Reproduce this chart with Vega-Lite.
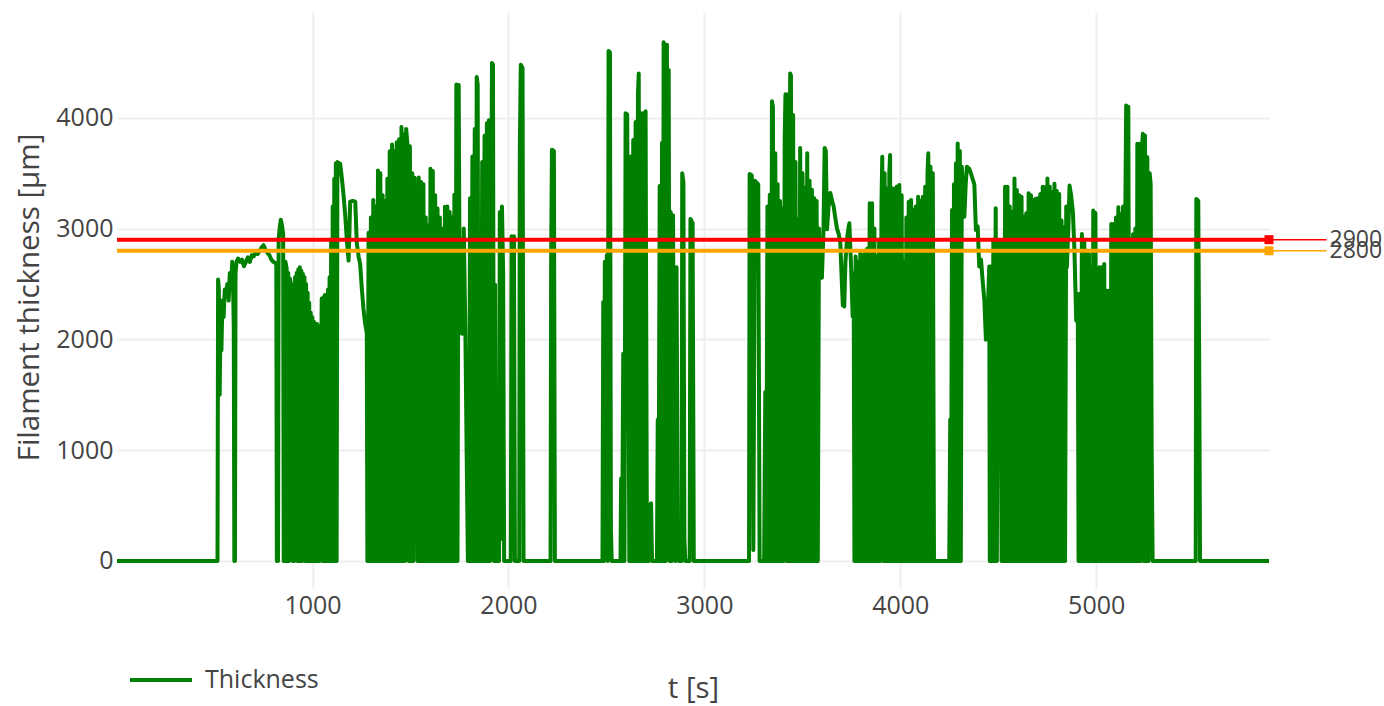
{
  "$schema": "https://vega.github.io/schema/vega-lite/v6.json",
  "width": 1152,
  "height": 576,
  "autosize": {"type": "none"},
  "padding": {"left": 117, "top": 12, "right": 115, "bottom": 118},
  "background": "white",
  "config": {
    "font": "Open Sans",
    "view": {"stroke": null},
    "axis": {
      "grid": true, "gridColor": "#eeeeee", "gridWidth": 2,
      "domain": false, "ticks": false,
      "labelFontSize": 25, "labelColor": "#444444", "labelFont": "Open Sans",
      "titleFontSize": 29.5, "titleColor": "#444444", "titleFontWeight": "normal", "titleFont": "Open Sans"
    }
  },
  "datasets": {
    "thick": [
      {"t":2,"v":0},{"t":515,"v":0},{"t":518,"v":2540},{"t":522,"v":2450},{"t":526,"v":1500},{"t":531,"v":2300},{"t":535,"v":1900},{"t":540,"v":2350},{"t":546,"v":2200},{"t":552,"v":2450},{"t":558,"v":2400},{"t":565,"v":2500},{"t":572,"v":2350},{"t":578,"v":2600},{"t":584,"v":2450},{"t":590,"v":2700},{"t":594,"v":2550},{"t":598,"v":2100},{"t":601,"v":0},{"t":604,"v":0},{"t":607,"v":2600},{"t":612,"v":2700},
      {"t":620,"v":2730},{"t":630,"v":2700},{"t":640,"v":2720},{"t":650,"v":2660},{"t":660,"v":2700},{"t":670,"v":2740},{"t":680,"v":2700},{"t":690,"v":2760},{"t":700,"v":2750},{"t":710,"v":2790},{"t":720,"v":2770},{"t":730,"v":2800},{"t":740,"v":2830},{"t":750,"v":2850},{"t":760,"v":2810},{"t":770,"v":2780},{"t":780,"v":2760},{"t":790,"v":2720},{"t":800,"v":2700},{"t":810,"v":2690},{"t":815,"v":2680},{"t":818,"v":0},{"t":824,"v":0},{"t":827,"v":2900},{"t":832,"v":3000},{"t":838,"v":3080},{"t":845,"v":3020},{"t":850,"v":2950},{"t":853,"v":0},{"t":858,"v":0},{"t":862,"v":2700},{"t":868,"v":2640},{"t":872,"v":0},{"t":876,"v":2600},{"t":880,"v":0},{"t":884,"v":2550},{"t":890,"v":2500},
      {"t":895,"v":2480},{"t":899,"v":0},{"t":903,"v":2490},{"t":907,"v":0},{"t":911,"v":2560},{"t":915,"v":10},{"t":919,"v":2600},{"t":923,"v":0},{"t":927,"v":2630},{"t":931,"v":0},{"t":935,"v":2650},{"t":939,"v":0},{"t":943,"v":2620},{"t":947,"v":0},{"t":951,"v":2590},{"t":955,"v":30},{"t":959,"v":2560},{"t":963,"v":0},{"t":967,"v":2500},{"t":971,"v":0},{"t":975,"v":2420},{"t":979,"v":0},{"t":983,"v":2330},{"t":987,"v":0},{"t":991,"v":2240},{"t":995,"v":0},{"t":999,"v":2200},{"t":1003,"v":0},{"t":1007,"v":2160},{"t":1011,"v":0},{"t":1015,"v":2130},{"t":1019,"v":0},{"t":1023,"v":2140},{"t":1027,"v":0},{"t":1031,"v":2110},{"t":1035,"v":0},{"t":1039,"v":2120},{"t":1043,"v":1650},{"t":1047,"v":2370},{"t":1051,"v":0},{"t":1055,"v":2380},{"t":1059,"v":0},{"t":1063,"v":2400},{"t":1067,"v":0},{"t":1071,"v":2390},{"t":1075,"v":0},{"t":1079,"v":2450},{"t":1083,"v":0},{"t":1087,"v":2560},{"t":1091,"v":0},{"t":1095,"v":2900},{"t":1099,"v":0},{"t":1103,"v":3200},{"t":1107,"v":0},{"t":1111,"v":3450},{"t":1115,"v":0},{"t":1119,"v":3590},{"t":1123,"v":0},{"t":1127,"v":3600},
      {"t":1135,"v":3590},{"t":1141,"v":3587},{"t":1150,"v":3450},{"t":1158,"v":3306},{"t":1167,"v":3118},{"t":1175,"v":2900},{"t":1184,"v":2712},{"t":1188,"v":2950},{"t":1192,"v":3243},{"t":1205,"v":3250},{"t":1218,"v":3243},{"t":1226,"v":2868},{"t":1235,"v":2750},{"t":1243,"v":2681},{"t":1252,"v":2450},{"t":1260,"v":2275},{"t":1268,"v":2150},{"t":1277,"v":2056},
      {"t":1280,"v":0},{"t":1286,"v":2962},{"t":1292,"v":0},{"t":1298,"v":3100},{"t":1304,"v":0},{"t":1310,"v":3259},{"t":1316,"v":0},{"t":1322,"v":3200},{"t":1328,"v":0},{"t":1334,"v":3525},{"t":1340,"v":0},{"t":1346,"v":3500},{"t":1352,"v":0},{"t":1358,"v":3300},{"t":1364,"v":0},{"t":1370,"v":3250},{"t":1376,"v":0},{"t":1382,"v":3450},{"t":1388,"v":0},{"t":1394,"v":3697},{"t":1400,"v":0},{"t":1406,"v":3759},{"t":1412,"v":0},{"t":1418,"v":3700},{"t":1424,"v":0},{"t":1430,"v":3780},{"t":1436,"v":0},{"t":1442,"v":3806},{"t":1448,"v":0},{"t":1454,"v":3916},{"t":1460,"v":0},{"t":1466,"v":3850},{"t":1472,"v":0},{"t":1478,"v":3900},{"t":1485,"v":3750},{"t":1491,"v":0},{"t":1497,"v":3744},{"t":1503,"v":0},{"t":1509,"v":3500},{"t":1515,"v":0},{"t":1521,"v":3460},{"t":1526,"v":2600},{"t":1531,"v":3300},{"t":1536,"v":0},{"t":1542,"v":3462},{"t":1548,"v":0},{"t":1554,"v":3420},{"t":1560,"v":0},{"t":1566,"v":3400},{"t":1572,"v":0},{"t":1578,"v":3100},{"t":1584,"v":0},{"t":1590,"v":3025},{"t":1596,"v":0},{"t":1602,"v":3540},{"t":1608,"v":0},{"t":1614,"v":3520},{"t":1620,"v":0},{"t":1626,"v":3300},{"t":1632,"v":0},{"t":1638,"v":3181},{"t":1644,"v":0},{"t":1650,"v":3100},{"t":1656,"v":0},{"t":1660,"v":3000},{"t":1664,"v":1600},{"t":1670,"v":0},{"t":1676,"v":3197},{"t":1682,"v":0},{"t":1688,"v":3200},{"t":1694,"v":0},{"t":1700,"v":3150},{"t":1706,"v":0},{"t":1712,"v":3103},{"t":1718,"v":0},{"t":1724,"v":3306},{"t":1730,"v":0},{"t":1734,"v":4300},{"t":1740,"v":0},{"t":1746,"v":4296},{"t":1752,"v":2056},{"t":1758,"v":2900},{"t":1766,"v":2050},{"t":1772,"v":3000},{"t":1780,"v":2100},{"t":1787,"v":930},{"t":1793,"v":0},
      {"t":1799,"v":0},{"t":1804,"v":3275},{"t":1810,"v":0},{"t":1816,"v":3650},{"t":1822,"v":0},{"t":1828,"v":3900},{"t":1834,"v":0},{"t":1838,"v":4369},{"t":1843,"v":4300},{"t":1848,"v":0},{"t":1854,"v":2494},{"t":1860,"v":0},{"t":1866,"v":3600},{"t":1872,"v":0},{"t":1878,"v":3837},{"t":1884,"v":0},{"t":1890,"v":3950},{"t":1896,"v":0},{"t":1900,"v":3978},{"t":1906,"v":0},{"t":1912,"v":3000},{"t":1916,"v":4494},{"t":1921,"v":4480},{"t":1926,"v":0},{"t":1932,"v":2494},{"t":1936,"v":0},
      {"t":1952,"v":0},{"t":1956,"v":3150},{"t":1962,"v":200},{"t":1967,"v":3200},{"t":1973,"v":2600},{"t":1978,"v":0},{"t":2012,"v":0},{"t":2016,"v":2930},{"t":2022,"v":100},{"t":2028,"v":2930},{"t":2033,"v":0},{"t":2055,"v":0},{"t":2058,"v":3700},{"t":2063,"v":4478},{"t":2072,"v":4450},{"t":2077,"v":0},{"t":2215,"v":0},{"t":2218,"v":2750},{"t":2222,"v":3712},{"t":2232,"v":3700},{"t":2237,"v":0},
      {"t":2480,"v":0},{"t":2484,"v":2337},{"t":2488,"v":0},{"t":2492,"v":2700},{"t":2497,"v":100},{"t":2502,"v":2760},{"t":2507,"v":0},{"t":2511,"v":4603},{"t":2518,"v":4590},{"t":2523,"v":300},{"t":2527,"v":0},{"t":2572,"v":0},{"t":2575,"v":744},{"t":2580,"v":0},{"t":2586,"v":1870},{"t":2592,"v":0},{"t":2598,"v":4040},{"t":2606,"v":4030},{"t":2612,"v":2300},{"t":2617,"v":0},
      {"t":2625,"v":3650},{"t":2631,"v":0},{"t":2637,"v":3800},{"t":2643,"v":0},{"t":2649,"v":3962},{"t":2655,"v":0},{"t":2661,"v":4200},{"t":2665,"v":4400},{"t":2670,"v":0},{"t":2676,"v":4040},{"t":2682,"v":0},{"t":2688,"v":4040},{"t":2694,"v":0},{"t":2700,"v":4060},{"t":2707,"v":0},{"t":2715,"v":0},{"t":2720,"v":500},{"t":2728,"v":520},{"t":2733,"v":0},{"t":2758,"v":0},
      {"t":2762,"v":1275},{"t":2766,"v":0},{"t":2772,"v":3384},{"t":2778,"v":0},{"t":2784,"v":3775},{"t":2789,"v":0},{"t":2792,"v":4681},{"t":2798,"v":4650},{"t":2803,"v":0},{"t":2809,"v":4660},{"t":2814,"v":100},{"t":2818,"v":4431},{"t":2823,"v":0},{"t":2828,"v":3150},{"t":2834,"v":0},{"t":2840,"v":3120},{"t":2847,"v":212},{"t":2852,"v":0},{"t":2858,"v":2650},{"t":2864,"v":300},{"t":2870,"v":0},{"t":2884,"v":0},{"t":2887,"v":3500},{"t":2893,"v":3420},{"t":2898,"v":200},{"t":2903,"v":0},{"t":2925,"v":0},{"t":2929,"v":3087},{"t":2940,"v":3050},{"t":2946,"v":0},{"t":3228,"v":0},{"t":3231,"v":3493},{"t":3242,"v":3480},{"t":3250,"v":100},{"t":3258,"v":3431},{"t":3275,"v":3400},{"t":3282,"v":0},{"t":3305,"v":0},
      {"t":3311,"v":1525},{"t":3316,"v":0},{"t":3322,"v":3200},{"t":3328,"v":0},{"t":3334,"v":3306},{"t":3340,"v":0},{"t":3345,"v":4150},{"t":3350,"v":4100},{"t":3355,"v":0},{"t":3362,"v":3681},{"t":3368,"v":0},{"t":3374,"v":3400},{"t":3380,"v":0},{"t":3386,"v":3250},{"t":3392,"v":0},{"t":3398,"v":3181},{"t":3404,"v":0},{"t":3410,"v":3800},{"t":3414,"v":4212},{"t":3420,"v":0},{"t":3426,"v":4212},{"t":3432,"v":0},{"t":3438,"v":4400},{"t":3442,"v":4380},{"t":3447,"v":0},{"t":3453,"v":4025},{"t":3459,"v":0},{"t":3465,"v":3600},{"t":3471,"v":0},{"t":3477,"v":3087},{"t":3483,"v":0},{"t":3489,"v":3728},{"t":3495,"v":0},{"t":3501,"v":3500},{"t":3507,"v":0},{"t":3513,"v":3369},{"t":3519,"v":0},{"t":3525,"v":3681},{"t":3531,"v":0},{"t":3537,"v":3431},{"t":3543,"v":0},{"t":3549,"v":3350},{"t":3555,"v":0},{"t":3561,"v":3275},{"t":3567,"v":0},{"t":3573,"v":3250},{"t":3579,"v":0},{"t":3585,"v":3000},{"t":3590,"v":2556},
      {"t":3600,"v":2556},{"t":3608,"v":3000},{"t":3614,"v":3728},{"t":3620,"v":3700},{"t":3626,"v":2994},{"t":3634,"v":3200},{"t":3643,"v":3322},{"t":3652,"v":3250},{"t":3660,"v":3200},{"t":3668,"v":3100},{"t":3677,"v":3000},{"t":3686,"v":2950},{"t":3694,"v":2869},{"t":3702,"v":2500},{"t":3707,"v":2306},{"t":3714,"v":2297},{"t":3720,"v":2700},{"t":3728,"v":2900},{"t":3735,"v":3000},{"t":3740,"v":3048},{"t":3748,"v":2700},{"t":3757,"v":2207},{"t":3762,"v":2600},
      {"t":3766,"v":0},{"t":3772,"v":2748},{"t":3778,"v":0},{"t":3784,"v":2700},{"t":3790,"v":0},{"t":3796,"v":2778},{"t":3802,"v":0},{"t":3808,"v":2760},{"t":3814,"v":0},{"t":3820,"v":2800},{"t":3826,"v":0},{"t":3832,"v":2820},{"t":3838,"v":0},{"t":3844,"v":3228},{"t":3850,"v":0},{"t":3856,"v":3228},{"t":3862,"v":0},{"t":3868,"v":3000},{"t":3874,"v":0},{"t":3880,"v":2748},{"t":3886,"v":0},{"t":3892,"v":2900},{"t":3898,"v":0},{"t":3904,"v":3228},{"t":3908,"v":3649},{"t":3914,"v":0},{"t":3920,"v":3500},{"t":3926,"v":0},{"t":3932,"v":3363},{"t":3938,"v":0},{"t":3944,"v":3500},{"t":3948,"v":3664},{"t":3953,"v":0},{"t":3959,"v":3363},{"t":3965,"v":0},{"t":3971,"v":3363},{"t":3977,"v":0},{"t":3983,"v":3380},{"t":3989,"v":0},{"t":3995,"v":3393},{"t":4001,"v":0},{"t":4007,"v":3300},{"t":4013,"v":0},{"t":4019,"v":2700},{"t":4025,"v":0},{"t":4031,"v":3100},{"t":4037,"v":0},{"t":4043,"v":3243},{"t":4049,"v":0},{"t":4055,"v":3258},{"t":4061,"v":0},{"t":4067,"v":3170},{"t":4073,"v":0},{"t":4079,"v":3200},{"t":4085,"v":0},{"t":4091,"v":3288},{"t":4097,"v":0},{"t":4103,"v":3250},{"t":4109,"v":0},{"t":4115,"v":3288},{"t":4121,"v":0},{"t":4127,"v":3378},{"t":4133,"v":0},{"t":4139,"v":3500},{"t":4143,"v":3679},{"t":4148,"v":0},{"t":4154,"v":3558},{"t":4160,"v":0},{"t":4166,"v":3500},{"t":4172,"v":0},
      {"t":4250,"v":0},{"t":4255,"v":1276},{"t":4259,"v":0},{"t":4264,"v":3168},{"t":4269,"v":0},{"t":4274,"v":3400},{"t":4279,"v":0},{"t":4284,"v":3589},{"t":4289,"v":0},{"t":4293,"v":3769},{"t":4298,"v":0},{"t":4304,"v":3700},{"t":4309,"v":0},{"t":4314,"v":3559},{"t":4318,"v":3400},{"t":4327,"v":3108},{"t":4334,"v":3400},{"t":4340,"v":3559},{"t":4352,"v":3540},{"t":4360,"v":3500},{"t":4369,"v":3450},{"t":4378,"v":3400},{"t":4386,"v":2988},{"t":4395,"v":3020},{"t":4403,"v":2658},{"t":4412,"v":2720},{"t":4420,"v":2538},{"t":4429,"v":2357},{"t":4437,"v":1997},{"t":4446,"v":2207},{"t":4454,"v":2658},
      {"t":4457,"v":0},{"t":4463,"v":2658},{"t":4469,"v":0},{"t":4475,"v":2900},{"t":4481,"v":0},{"t":4487,"v":3183},{"t":4493,"v":0},{"t":4499,"v":2900},{"t":4505,"v":2600},{"t":4511,"v":2898},{"t":4517,"v":0},{"t":4523,"v":2898},{"t":4529,"v":0},{"t":4535,"v":3378},{"t":4541,"v":0},{"t":4547,"v":3378},{"t":4553,"v":0},{"t":4559,"v":3200},{"t":4565,"v":0},{"t":4571,"v":3150},{"t":4577,"v":0},{"t":4583,"v":3453},{"t":4589,"v":0},{"t":4595,"v":3348},{"t":4601,"v":0},{"t":4607,"v":3300},{"t":4613,"v":0},{"t":4619,"v":3288},{"t":4625,"v":0},{"t":4631,"v":3108},{"t":4637,"v":0},{"t":4643,"v":3138},{"t":4649,"v":0},{"t":4655,"v":3318},{"t":4661,"v":0},{"t":4667,"v":3300},{"t":4673,"v":0},{"t":4679,"v":3258},{"t":4685,"v":0},{"t":4691,"v":3270},{"t":4697,"v":0},{"t":4703,"v":3273},{"t":4709,"v":0},{"t":4715,"v":3313},{"t":4721,"v":0},{"t":4727,"v":3378},{"t":4733,"v":0},{"t":4739,"v":3373},{"t":4745,"v":0},{"t":4751,"v":3453},{"t":4757,"v":0},{"t":4763,"v":3378},{"t":4769,"v":0},{"t":4775,"v":3330},{"t":4781,"v":0},{"t":4787,"v":3404},{"t":4793,"v":0},{"t":4799,"v":3340},{"t":4805,"v":0},{"t":4811,"v":3313},{"t":4817,"v":0},{"t":4823,"v":3072},{"t":4829,"v":0},{"t":4835,"v":3012},{"t":4841,"v":0},{"t":4847,"v":3200},{"t":4850,"v":2650},{"t":4858,"v":3000},{"t":4864,"v":3389},{"t":4872,"v":3300},{"t":4881,"v":3150},{"t":4889,"v":2800},{"t":4898,"v":2169},{"t":4906,"v":2410},
      {"t":4910,"v":0},{"t":4915,"v":2410},{"t":4920,"v":0},{"t":4927,"v":2952},{"t":4933,"v":0},{"t":4939,"v":2900},{"t":4945,"v":0},{"t":4951,"v":2800},{"t":4957,"v":0},{"t":4963,"v":2771},{"t":4969,"v":0},{"t":4975,"v":2650},{"t":4981,"v":0},{"t":4985,"v":3163},{"t":4990,"v":0},{"t":4996,"v":3140},{"t":5002,"v":0},{"t":5006,"v":2229},{"t":5011,"v":0},{"t":5017,"v":2651},{"t":5023,"v":0},{"t":5029,"v":2651},{"t":5035,"v":0},{"t":5041,"v":2680},{"t":5047,"v":0},{"t":5053,"v":2440},{"t":5059,"v":0},{"t":5065,"v":2440},{"t":5071,"v":0},{"t":5077,"v":3042},{"t":5083,"v":0},{"t":5089,"v":3042},{"t":5095,"v":0},{"t":5101,"v":3100},{"t":5107,"v":0},{"t":5113,"v":3193},{"t":5119,"v":0},{"t":5125,"v":3130},{"t":5131,"v":0},{"t":5137,"v":3200},{"t":5143,"v":0},{"t":5149,"v":3223},{"t":5153,"v":4111},{"t":5158,"v":0},{"t":5164,"v":4100},{"t":5170,"v":0},{"t":5176,"v":2900},{"t":5182,"v":0},{"t":5188,"v":2950},{"t":5194,"v":0},{"t":5200,"v":3000},{"t":5206,"v":0},{"t":5210,"v":3765},{"t":5215,"v":0},{"t":5221,"v":3765},{"t":5227,"v":0},{"t":5233,"v":3700},{"t":5238,"v":3855},{"t":5243,"v":0},{"t":5249,"v":3840},{"t":5255,"v":0},{"t":5261,"v":3645},{"t":5267,"v":0},{"t":5273,"v":3500},{"t":5278,"v":3404},{"t":5283,"v":1030},{"t":5288,"v":0},
      {"t":5508,"v":0},{"t":5511,"v":3268},{"t":5521,"v":3250},{"t":5526,"v":1700},{"t":5530,"v":0},{"t":5882,"v":0}
    ],
    "limits": [
      {"name": "2900", "value": 2900},
      {"name": "2800", "value": 2800}
    ]
  },
  "layer": [
    {
      "mark": {"type": "rule", "color": "#444444", "strokeWidth": 2},
      "encoding": {"y": {"datum": 0, "type": "quantitative"}}
    },
    {
      "data": {"name": "thick"},
      "mark": {"type": "line", "strokeWidth": 4, "strokeJoin": "round"},
      "encoding": {
        "x": {
          "field": "t", "type": "quantitative",
          "scale": {"domain": [2, 5882], "nice": false, "zero": false},
          "axis": {
            "title": "t [s]", "values": [1000, 2000, 3000, 4000, 5000], "format": "d",
            "labelPadding": 5, "titleX": 576, "titleY": 100, "titleBaseline": "middle", "titleAlign": "center"
          }
        },
        "y": {
          "field": "v", "type": "quantitative",
          "scale": {"domain": [-244, 4955], "nice": false, "zero": false},
          "axis": {
            "title": "Filament thickness [µm]", "values": [0, 1000, 2000, 3000, 4000], "format": "d",
            "labelPadding": 4, "titleX": -88, "titleY": 285, "titleAngle": -90, "titleAlign": "center", "titleBaseline": "middle"
          }
        },
        "color": {
          "datum": "Thickness",
          "scale": {"range": ["#008000"]},
          "legend": {
            "orient": "none", "legendX": 11, "legendY": 635, "title": null,
            "symbolType": "stroke", "symbolSize": 3844, "symbolStrokeWidth": 4,
            "labelFontSize": 25, "labelColor": "#444444", "labelFont": "Open Sans", "labelOffset": 11
          }
        }
      }
    },
    {
      "data": {"name": "limits"},
      "transform": [{"filter": "datum.value == 2900"}],
      "layer": [
        {"mark": {"type": "rule", "color": "#ff0000", "strokeWidth": 4},
         "encoding": {"y": {"field": "value", "type": "quantitative", "title": "Filament thickness [µm]"}}},
        {"mark": {"type": "rule", "color": "#ff0000", "strokeWidth": 1.5},
         "encoding": {"x": {"datum": 5882}, "x2": {"datum": 6176}, "y": {"field": "value", "type": "quantitative", "title": "Filament thickness [µm]"}}},
        {"mark": {"type": "point", "shape": "square", "filled": true, "color": "#ff0000", "size": 81, "opacity": 1},
         "encoding": {"x": {"datum": 5882}, "y": {"field": "value", "type": "quantitative", "title": "Filament thickness [µm]"}}},
        {"mark": {"type": "text", "align": "left", "baseline": "middle", "fontSize": 23, "color": "#444444", "font": "Open Sans"},
         "encoding": {"x": {"datum": 6191}, "y": {"field": "value", "type": "quantitative", "title": "Filament thickness [µm]"}, "text": {"field": "name"}}}
      ]
    },
    {
      "data": {"name": "limits"},
      "transform": [{"filter": "datum.value == 2800"}],
      "layer": [
        {"mark": {"type": "rule", "color": "#ffa500", "strokeWidth": 4},
         "encoding": {"y": {"field": "value", "type": "quantitative", "title": "Filament thickness [µm]"}}},
        {"mark": {"type": "rule", "color": "#ffa500", "strokeWidth": 1.5},
         "encoding": {"x": {"datum": 5882}, "x2": {"datum": 6176}, "y": {"field": "value", "type": "quantitative", "title": "Filament thickness [µm]"}}},
        {"mark": {"type": "point", "shape": "square", "filled": true, "color": "#ffa500", "size": 81, "opacity": 1},
         "encoding": {"x": {"datum": 5882}, "y": {"field": "value", "type": "quantitative", "title": "Filament thickness [µm]"}}},
        {"mark": {"type": "text", "align": "left", "baseline": "middle", "fontSize": 23, "color": "#444444", "font": "Open Sans"},
         "encoding": {"x": {"datum": 6191}, "y": {"field": "value", "type": "quantitative", "title": "Filament thickness [µm]"}, "text": {"field": "name"}}}
      ]
    }
  ]
}
